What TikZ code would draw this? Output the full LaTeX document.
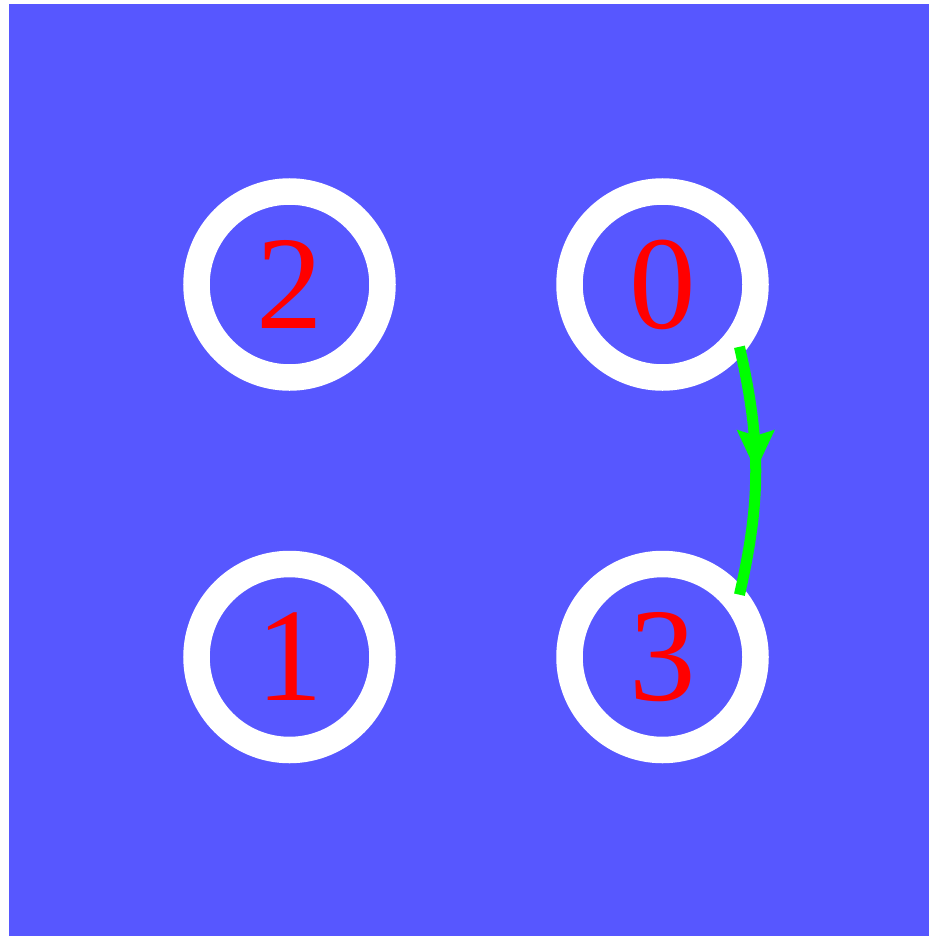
\documentclass[tikz,border=0pt]{standalone}
\usepackage{fontspec}
\setmainfont{Liberation Serif}
\usetikzlibrary{arrows.meta,decorations.markings}
\definecolor{bgblue}{RGB}{87,87,255}
\definecolor{nodered}{RGB}{255,0,0}
\definecolor{arrgreen}{RGB}{0,255,0}
\begin{document}
\begin{tikzpicture}[x=1pt,y=-1pt,
  ring/.style={circle,draw=white,line width=26.5pt,minimum size=186pt,inner sep=0pt,outer sep=6pt,
    text=nodered,font=\fontsize{133}{133}\selectfont},
  edgearrow/.style={draw=arrgreen,line width=11pt,
    postaction={decorate,decoration={markings,
      mark=at position 0.5 with {\arrow[arrgreen]{Stealth[length=40pt,width=36pt,inset=5pt]}}}}}]
\useasboundingbox (0,0) rectangle (929,936);
\fill[bgblue] (9,4) rectangle (929,936);
\node[ring] (n2) at (289.5,284.5) {2};
\node[ring] (n0) at (662.5,284.5) {0};
\node[ring] (n1) at (289.5,657) {1};
\node[ring] (n3) at (662.5,657) {3};
\draw[edgearrow] (n0.-39) to[bend left=13] (n3.39);
\end{tikzpicture}
\end{document}
